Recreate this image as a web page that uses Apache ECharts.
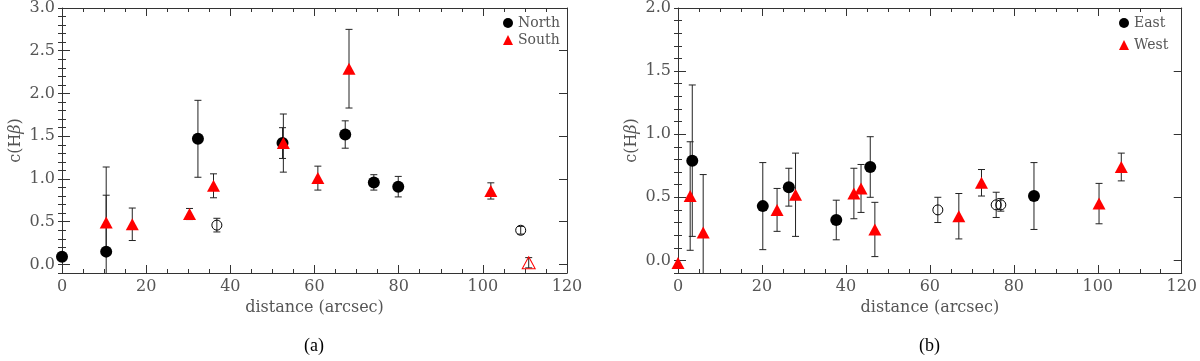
<!DOCTYPE html>
<html>
<head>
<meta charset="utf-8">
<script src="https://cdn.jsdelivr.net/npm/echarts@6/dist/echarts.min.js"></script>
<style>
  html, body { margin: 0; padding: 0; background: #fff; }
  #chart { width: 1200px; height: 361px; }
</style>
</head>
<body>
<div id="chart"></div>
<script>
// panel (a): North / South
var northX = [0, 10.5, 32.3, 52.4, 67.3, 74.1, 79.9];
var northY = [0.09, 0.15, 1.47, 1.42, 1.52, 0.96, 0.91];
var northErr = [0, 0.99, 0.45, 0.18, 0.16, 0.09, 0.12];
var northOpenX = [36.8, 109.0];
var northOpenY = [0.46, 0.40];
var northOpenErr = [0.08, 0.045];
var southX = [10.5, 16.7, 30.3, 36.0, 52.6, 60.8, 68.2, 101.9];
var southY = [0.49, 0.47, 0.59, 0.92, 1.42, 1.01, 2.29, 0.86];
var southErr = [0.32, 0.19, 0.065, 0.14, 0.34, 0.14, 0.46, 0.095];
var southOpenX = [110.9];
var southOpenY = [0.02];
var southOpenErr = [0.06];

// panel (b): East / West
var eastX = [3.4, 20.2, 26.4, 37.7, 45.8, 84.8];
var eastY = [0.79, 0.43, 0.58, 0.32, 0.74, 0.51];
var eastErr = [0.60, 0.345, 0.15, 0.157, 0.24, 0.265];
var eastOpenX = [61.9, 75.8, 76.9];
var eastOpenY = [0.40, 0.44, 0.44];
var eastOpenErr = [0.10, 0.10, 0.05];
var westX = [0, 2.9, 6.0, 23.6, 28.0, 41.9, 43.6, 46.9, 66.9, 72.3, 100.3, 105.6];
var westY = [-0.02, 0.51, 0.22, 0.40, 0.52, 0.53, 0.57, 0.245, 0.35, 0.615, 0.45, 0.74];
var westErr = [0, 0.43, 0.46, 0.17, 0.33, 0.2, 0.19, 0.215, 0.18, 0.105, 0.16, 0.11];

// tick labels
var aYTicks = [0, 0.5, 1.0, 1.5, 2.0, 2.5, 3.0];
var bYTicks = [0, 0.5, 1.0, 1.5, 2.0];

var labelFont = 'DejaVu Serif';
var labelColor = '#555';
var lineColor = '#333';

function pts(xs, ys, es) {
    return xs.map(function (x, i) { return es ? [x, ys[i], es[i]] : [x, ys[i]]; });
}

// error bar with caps, cut at the plot frame
function errRender(params, api) {
    var x = api.value(0), y = api.value(1), e = api.value(2);
    if (!e) return null;
    var cs = params.coordSys;
    var top = api.coord([x, y + e]);
    var bot = api.coord([x, y - e]);
    var yTop = Math.max(top[1], cs.y);
    var yBot = Math.min(bot[1], cs.y + cs.height);
    var st = { stroke: '#222', lineWidth: 1 };
    var kids = [{ type: 'line', shape: { x1: top[0], y1: yTop, x2: top[0], y2: yBot }, style: st }];
    if (top[1] >= cs.y) kids.push({ type: 'line', shape: { x1: top[0] - 3.5, y1: top[1], x2: top[0] + 3.5, y2: top[1] }, style: st });
    if (bot[1] <= cs.y + cs.height) kids.push({ type: 'line', shape: { x1: bot[0] - 3.5, y1: bot[1], x2: bot[0] + 3.5, y2: bot[1] }, style: st });
    return { type: 'group', children: kids };
}

function xAxes(g) {
    var base = {
        gridIndex: g, type: 'value', min: 0, max: 120, interval: 20,
        axisLine: { show: true, onZero: false, lineStyle: { color: lineColor } },
        axisTick: { show: true, inside: true, length: 8, lineStyle: { color: lineColor } },
        minorTick: { show: true, splitNumber: 4, length: 4, lineStyle: { color: lineColor } },
        splitLine: { show: false }
    };
    var bottom = Object.assign({}, base, {
        position: 'bottom',
        axisLabel: { margin: 6, color: labelColor, fontFamily: labelFont, fontSize: 16 },
        name: 'distance (arcsec)', nameLocation: 'middle', nameGap: 26,
        nameTextStyle: { color: labelColor, fontFamily: labelFont, fontSize: 16 }
    });
    var top = Object.assign({}, base, { position: 'top', axisLabel: { show: false } });
    return [bottom, top];
}

function yAxes(g, max, majors) {
    var line = { show: true, onZero: false, lineStyle: { color: lineColor } };
    var main = {
        gridIndex: g, type: 'value', min: -0.1, max: max, position: 'left',
        axisLine: line,
        axisTick: { show: true, inside: true, length: 8, customValues: majors, lineStyle: { color: lineColor } },
        axisLabel: {
            margin: 7, customValues: majors, color: labelColor, fontFamily: labelFont, fontSize: 16,
            formatter: function (v) { return v.toFixed(1); }
        },
        splitLine: { show: false },
        name: 'c(H{b|β})', nameLocation: 'middle', nameGap: 38, nameRotate: 90,
        nameTextStyle: {
            color: labelColor, fontFamily: labelFont, fontSize: 16,
            rich: { b: { color: labelColor, fontFamily: labelFont, fontSize: 16, fontStyle: 'italic' } }
        }
    };
    var minor = {
        gridIndex: g, type: 'value', min: -0.1, max: max, interval: 0.1, position: 'left',
        axisLine: { show: false },
        axisTick: { show: true, inside: true, length: 4, lineStyle: { color: lineColor } },
        axisLabel: { show: false }, splitLine: { show: false }
    };
    var rMain = Object.assign({}, main, {
        position: 'right', name: '', axisLabel: { show: false }
    });
    var rMinor = Object.assign({}, minor, { position: 'right' });
    return [main, minor, rMain, rMinor];
}

function errSeries(name, xi, yi, data) {
    return {
        name: name, type: 'custom', xAxisIndex: xi, yAxisIndex: yi,
        renderItem: errRender, data: data, encode: { x: 0, y: 1 }, z: 1, silent: true
    };
}

function dotSeries(name, xi, yi, data, symbol, size, style) {
    return {
        name: name, type: 'scatter', xAxisIndex: xi, yAxisIndex: yi, data: data,
        symbol: symbol, symbolSize: size, itemStyle: Object.assign({ opacity: 1 }, style),
        z: 3, clip: true, silent: true
    };
}

var red = '#ff0000';
var filledBlack = { color: '#000' };
var filledRed = { color: red };
var openBlack = { color: 'rgba(0,0,0,0)', borderColor: '#000', borderWidth: 1 };
var openRed = { color: 'rgba(0,0,0,0)', borderColor: red, borderWidth: 1 };

var chart = echarts.init(document.getElementById('chart'), null, { renderer: 'canvas' });
chart.setOption({
    backgroundColor: '#fff',
    animation: false,
    grid: [
        { left: 62, top: 6, width: 505, height: 267 },
        { left: 678, top: 6, width: 505, height: 267 }
    ],
    xAxis: xAxes(0).concat(xAxes(1)),
    yAxis: yAxes(0, 3.0, aYTicks).concat(yAxes(1, 2.0, bYTicks)),
    legend: [
        {
            data: ['North', 'South'], orient: 'vertical', left: 498, top: 11,
            itemWidth: 10, itemHeight: 10, itemGap: 3,
            textStyle: { color: labelColor, fontFamily: labelFont, fontSize: 14 }
        },
        {
            data: ['East', 'West'], orient: 'vertical', left: 1114, top: 11,
            itemWidth: 10, itemHeight: 10, itemGap: 8,
            textStyle: { color: labelColor, fontFamily: labelFont, fontSize: 14 }
        }
    ],
    graphic: [
        { type: 'text', left: 304, top: 337, style: { text: '(a)', font: '18px "Liberation Serif"', fill: '#000' } },
        { type: 'text', left: 919, top: 337, style: { text: '(b)', font: '18px "Liberation Serif"', fill: '#000' } }
    ],
    series: [
        errSeries('errN', 0, 0, pts(northX, northY, northErr)),
        errSeries('errNo', 0, 0, pts(northOpenX, northOpenY, northOpenErr)),
        errSeries('errS', 0, 0, pts(southX, southY, southErr)),
        errSeries('errSo', 0, 0, pts(southOpenX, southOpenY, southOpenErr)),
        dotSeries('North', 0, 0, pts(northX, northY), 'circle', 12, filledBlack),
        dotSeries('South', 0, 0, pts(southX, southY), 'triangle', [13, 12], filledRed),
        dotSeries('northOpen', 0, 0, pts(northOpenX, northOpenY), 'circle', 10, openBlack),
        dotSeries('southOpen', 0, 0, pts(southOpenX, southOpenY), 'triangle', [13, 12], openRed),

        errSeries('errE', 2, 4, pts(eastX, eastY, eastErr)),
        errSeries('errEo', 2, 4, pts(eastOpenX, eastOpenY, eastOpenErr)),
        errSeries('errW', 2, 4, pts(westX, westY, westErr)),
        dotSeries('East', 2, 4, pts(eastX, eastY), 'circle', 12, filledBlack),
        dotSeries('West', 2, 4, pts(westX, westY), 'triangle', [13, 12], filledRed),
        dotSeries('eastOpen', 2, 4, pts(eastOpenX, eastOpenY), 'circle', 10, openBlack)
    ]
});
</script>
</body>
</html>
